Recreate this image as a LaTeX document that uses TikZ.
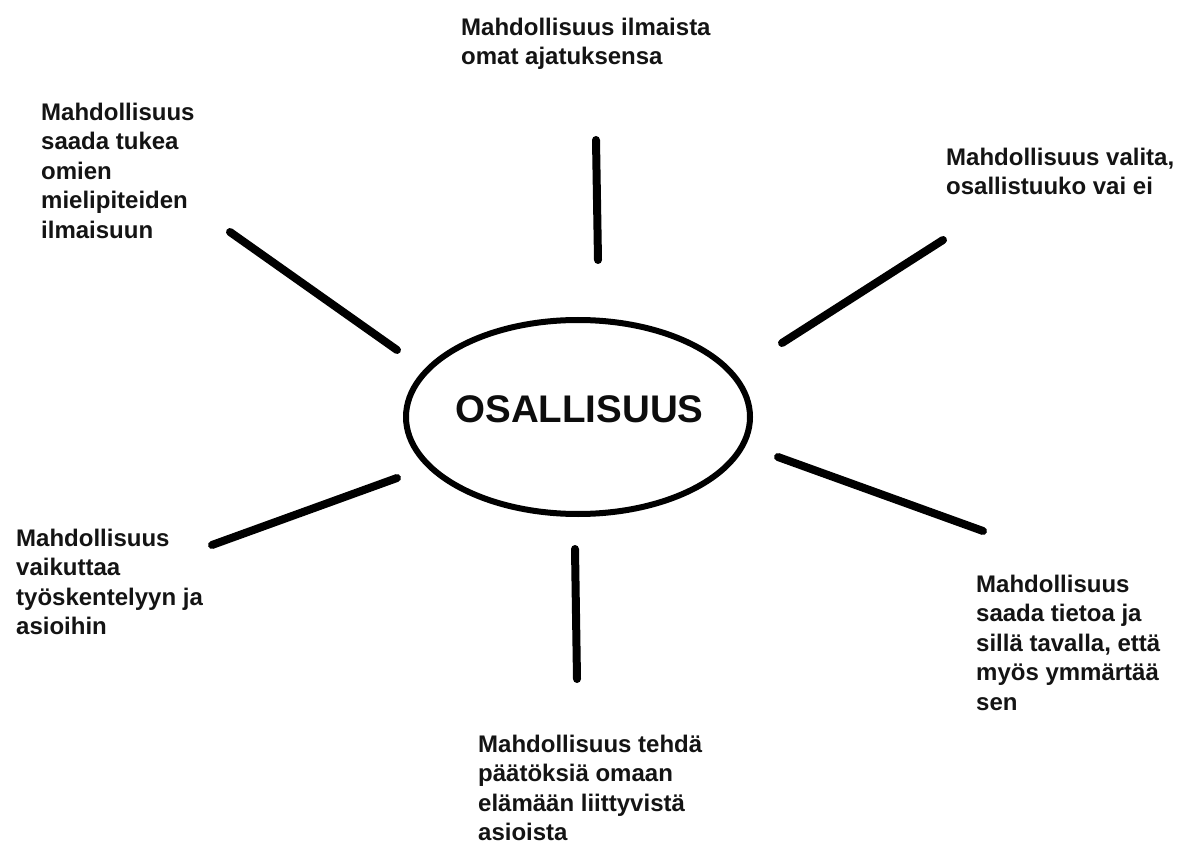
\documentclass[tikz,border=0pt]{standalone}
\usepackage{fontspec}
\setmainfont{Liberation Sans}
\usetikzlibrary{shapes.geometric}
\begin{document}
\begin{tikzpicture}[x=1pt,y=-1pt,
  lbl/.style={anchor=north west, inner sep=0pt, align=left,
    font=\fontsize{24}{29.5}\selectfont\bfseries, text=black!92},
  spoke/.style={line width=8pt, line cap=round, draw=black},
  hub/.style={ellipse, draw=black, line width=6pt, inner sep=0pt,
    minimum width=344pt, minimum height=194pt}]
\useasboundingbox[fill=white] (0,0) rectangle (1189,850);

% central ellipse
\node[hub] (hub) at (578,417) {};
\node[inner sep=0pt, font=\fontsize{38.5}{42}\selectfont\bfseries, text=black!95] (title) at (579.5,409.5) {OSALLISUUS};

% labels
\node[lbl] (top) at (461,17.5) {Mahdollisuus ilmaista\\omat ajatuksensa};
\node[lbl] (ul) at (41,102.5) {Mahdollisuus\\saada tukea\\omien\\mielipiteiden\\ilmaisuun};
\node[lbl] (ur) at (946,147.5) {Mahdollisuus valita,\\osallistuuko vai ei};
\node[lbl] (ll) at (16,528.5) {Mahdollisuus\\vaikuttaa\\työskentelyyn ja\\asioihin};
\node[lbl] (lr) at (976,574.5) {Mahdollisuus\\saada tietoa ja\\sillä tavalla, että\\myös ymmärtää\\sen};
\node[lbl] (bot) at (478,734.5) {Mahdollisuus tehdä\\päätöksiä omaan\\elämään liittyvistä\\asioista};

% spoke end points
\coordinate (t1) at (596,140);  \coordinate (t2) at (598,260);
\coordinate (a1) at (230,232);  \coordinate (a2) at (397,350);
\coordinate (b1) at (943,240);  \coordinate (b2) at (782,343);
\coordinate (c1) at (397,478);  \coordinate (c2) at (212,545);
\coordinate (d1) at (778,457);  \coordinate (d2) at (983,531);
\coordinate (e1) at (575,549);  \coordinate (e2) at (577,679);

\draw[spoke] (t1) -- (t2);
\draw[spoke] (a1) -- (a2);
\draw[spoke] (b1) -- (b2);
\draw[spoke] (c1) -- (c2);
\draw[spoke] (d1) -- (d2);
\draw[spoke] (e1) -- (e2);
\end{tikzpicture}
\end{document}
